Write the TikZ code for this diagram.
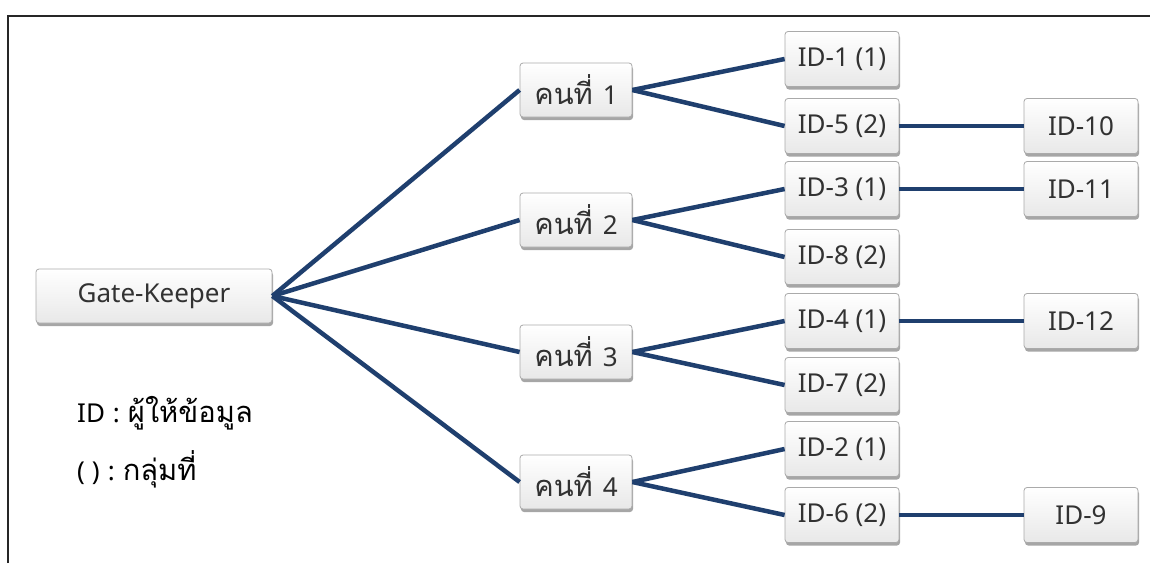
\documentclass[tikz,border=0pt]{standalone}
\usepackage{fontspec}
\setmainfont{Noto Sans}
\newfontfamily\thai[Script=Thai,Scale=1.12]{Loma}
\usetikzlibrary{shadows}
\definecolor{linkblue}{RGB}{31,63,110}
\definecolor{boxtext}{RGB}{50,50,50}
\definecolor{boxedge}{RGB}{170,170,170}
\newcommand{\person}[1]{{\thai คนที่}\hspace{10pt}#1}
\tikzset{
  box/.style={rectangle, rounded corners=3pt, draw=boxedge, line width=0.8pt,
    top color=white, bottom color=gray!18, text=boxtext,
    font=\fontsize{26}{30}\selectfont, inner sep=0pt,
    drop shadow={shadow xshift=1pt, shadow yshift=-3pt, opacity=0.35, fill=black}},
  gk/.style={box, minimum width=236pt, minimum height=54pt},
  mid/.style={box, minimum width=112pt, minimum height=54pt},
  idbox/.style={box, minimum width=114pt, minimum height=55pt},
  link/.style={draw=linkblue, line width=4.5pt},
  legend/.style={anchor=west, inner sep=0pt, text=black, font=\fontsize{26}{30}\selectfont},
}
\begin{document}
\begin{tikzpicture}[x=1pt, y=-1pt]
\useasboundingbox (0,0) rectangle (1150,563);
\fill[white] (0,0) rectangle (1150,563);
% frame
\draw[line width=1.6pt, black!85] (8,563) -- (8,16) -- (1150,16);

% root
\node[gk] (gk) at (154,296) {Gate-Keeper};

% second level
\node[mid] (p1) at (576,90)  {\person{1}};
\node[mid] (p2) at (576,220) {\person{2}};
\node[mid] (p3) at (576,352) {\person{3}};
\node[mid] (p4) at (576,482) {\person{4}};

% informants
\node[idbox] (i1) at (842,59)  {ID-1 (1)};
\node[idbox] (i5) at (842,126) {ID-5 (2)};
\node[idbox] (i3) at (842,189) {ID-3 (1)};
\node[idbox] (i8) at (842,257) {ID-8 (2)};
\node[idbox] (i4) at (842,321) {ID-4 (1)};
\node[idbox] (i7) at (842,385) {ID-7 (2)};
\node[idbox] (i2) at (842,449) {ID-2 (1)};
\node[idbox] (i6) at (842,515) {ID-6 (2)};

\node[idbox] (i10) at (1081,126) {ID-10};
\node[idbox] (i11) at (1081,189) {ID-11};
\node[idbox] (i12) at (1081,321) {ID-12};
\node[idbox] (i9)  at (1081,515) {ID-9};

% connectors
\foreach \p in {p1,p2,p3,p4} \draw[link] (gk.east) -- (\p.west);
\draw[link] (p1.east) -- (i1.west);
\draw[link] (p1.east) -- (i5.west);
\draw[link] (p2.east) -- (i3.west);
\draw[link] (p2.east) -- (i8.west);
\draw[link] (p3.east) -- (i4.west);
\draw[link] (p3.east) -- (i7.west);
\draw[link] (p4.east) -- (i2.west);
\draw[link] (p4.east) -- (i6.west);
\draw[link] (i5.east) -- (i10.west);
\draw[link] (i3.east) -- (i11.west);
\draw[link] (i4.east) -- (i12.west);
\draw[link] (i6.east) -- (i9.west);

% legend
\node[legend] (lg1) at (77,413) {ID\hspace{8pt}:\hspace{8pt}{\thai ผู้ให้ข้อมูล}};
\node[legend] (lg2) at (77,469) {(\hspace{7pt})\hspace{8pt}:\hspace{8pt}{\thai กลุ่มที่}};
\end{tikzpicture}
\end{document}
